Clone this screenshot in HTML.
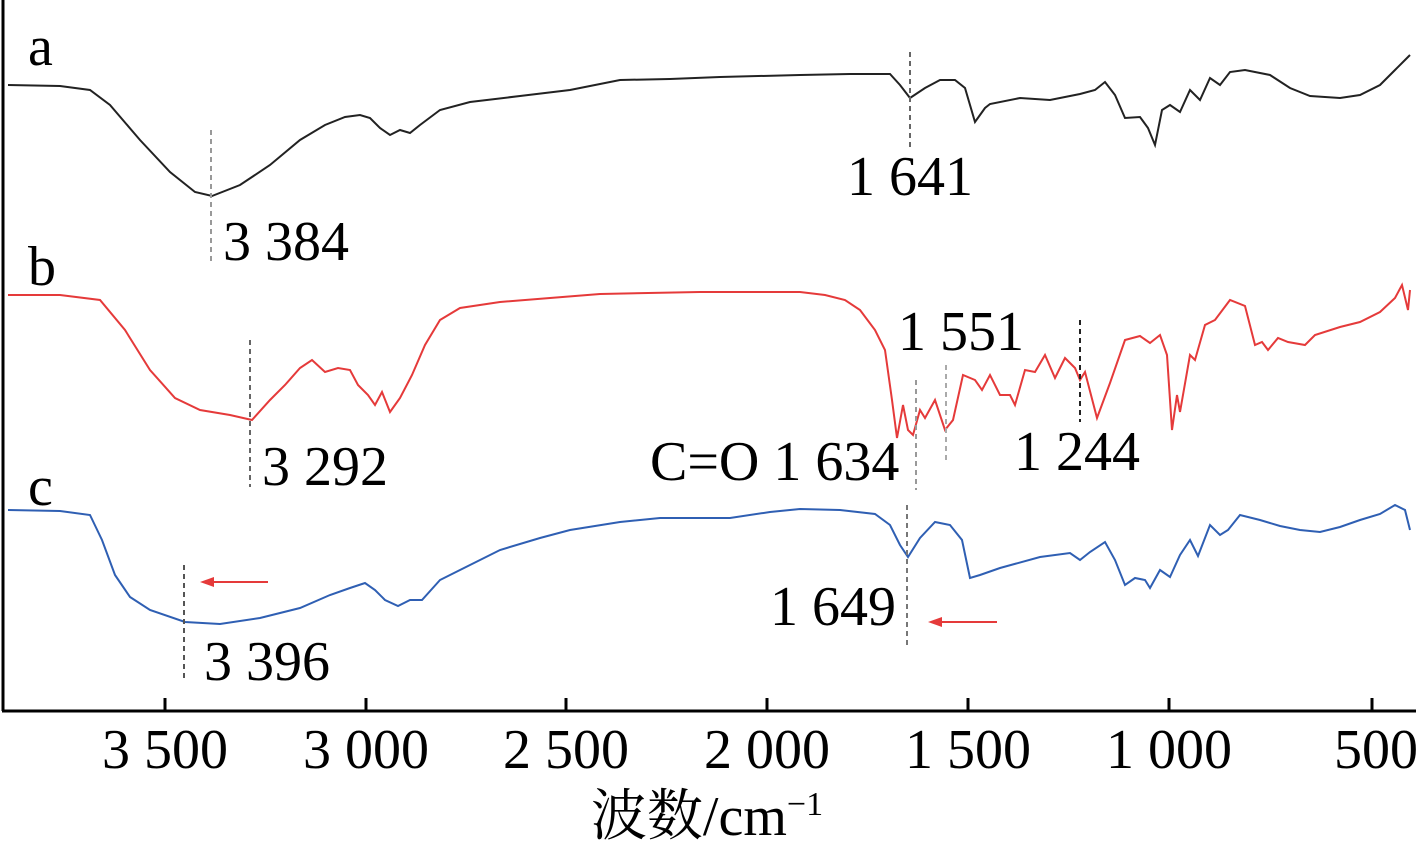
<!DOCTYPE html><html><head><meta charset="utf-8"><style>body{margin:0;background:#fff}svg{display:block}text{font-family:"Liberation Serif","Noto Serif CJK SC",serif;fill:#000}</style></head><body>
<svg width="1416" height="847" viewBox="0 0 1416 847">
<g fill="none" stroke-width="2">
<polyline stroke="#222" points="8,85 60,86 90,90 110,105 140,140 170,172 195,192 212,196 240,185 270,165 300,140 325,125 345,117 360,115 370,118 380,128 390,135 400,130 410,133 420,125 440,110 470,102 520,96 570,90 620,80 670,79 720,77 800,75 850,74 890,74 900,85 910,98 925,88 940,80 955,80 965,88 975,122 985,108 990,104 1020,98 1050,100 1080,94 1095,90 1105,82 1115,95 1125,118 1140,117 1148,128 1155,145 1162,110 1170,105 1180,112 1190,90 1200,100 1210,78 1220,85 1230,72 1245,70 1270,75 1290,88 1310,96 1340,98 1360,95 1380,85 1395,70 1405,60 1410,55"/>
<polyline stroke="#e53a3a" points="8,295 60,295 100,300 125,330 150,370 175,398 200,410 230,415 252,420 270,400 285,385 300,368 312,360 325,372 338,368 350,370 358,385 368,395 375,405 382,392 390,412 400,398 412,375 425,345 440,320 460,308 500,302 550,298 600,294 700,292 800,292 825,295 845,300 860,310 875,330 885,350 892,400 897,438 903,405 908,430 913,435 920,410 925,418 935,400 945,430 953,420 963,375 975,380 982,390 990,375 1000,395 1010,395 1015,405 1025,370 1035,372 1045,355 1055,378 1065,358 1075,368 1080,380 1085,372 1097,418 1110,383 1125,340 1140,336 1150,343 1160,335 1167,355 1172,430 1177,395 1180,412 1190,355 1195,360 1205,325 1215,320 1230,300 1245,306 1255,345 1262,342 1268,350 1278,338 1288,342 1305,345 1315,335 1340,327 1360,322 1380,312 1395,298 1402,285 1408,310 1410,290"/>
<polyline stroke="#2f5fb3" points="8,510 60,511 90,515 102,540 115,575 130,597 150,610 185,622 220,624 260,618 300,608 330,595 350,588 365,583 375,590 385,600 398,606 410,600 422,600 440,580 460,570 500,550 540,538 570,530 620,522 660,518 730,518 770,512 800,509 840,510 875,514 890,525 900,545 908,557 920,538 935,522 950,525 962,540 970,578 980,575 1000,568 1040,557 1070,553 1080,560 1090,552 1105,542 1115,560 1125,585 1135,578 1145,580 1150,588 1160,570 1170,577 1180,555 1190,540 1198,556 1210,525 1220,535 1228,530 1240,515 1260,520 1280,526 1300,530 1320,532 1340,527 1360,520 1380,514 1395,505 1405,510 1410,530"/>
</g>
<g stroke-width="2" stroke-dasharray="5,4" fill="none">
<line x1="211" y1="130" x2="211" y2="262" stroke="#999"/>
<line x1="910" y1="52" x2="910" y2="150" stroke="#666"/>
<line x1="250" y1="340" x2="250" y2="487" stroke="#666"/>
<line x1="916" y1="380" x2="916" y2="490" stroke="#999"/>
<line x1="946" y1="365" x2="946" y2="462" stroke="#aaa"/>
<line x1="1080" y1="320" x2="1080" y2="422" stroke="#222"/>
<line x1="184" y1="565" x2="184" y2="682" stroke="#555"/>
<line x1="907" y1="505" x2="907" y2="645" stroke="#777"/>
</g>
<g stroke="#e53a3a" stroke-width="2" fill="#e53a3a">
<line x1="268" y1="582" x2="210" y2="582"/><polygon points="200,582 214,577 214,587" stroke="none"/>
<line x1="997" y1="622" x2="938" y2="622"/><polygon points="928,622 942,617 942,627" stroke="none"/>
</g>
<g stroke="#000" stroke-width="3">
<line x1="3" y1="0" x2="3" y2="711"/><line x1="2" y1="711" x2="1416" y2="711"/>
<line x1="165" y1="711" x2="165" y2="698"/><line x1="366" y1="711" x2="366" y2="698"/><line x1="566" y1="711" x2="566" y2="698"/><line x1="767" y1="711" x2="767" y2="698"/><line x1="968" y1="711" x2="968" y2="698"/><line x1="1169" y1="711" x2="1169" y2="698"/><line x1="1372" y1="711" x2="1372" y2="698"/>
</g>
<g font-size="56">
<text x="28" y="65">a</text><text x="28" y="285">b</text><text x="28" y="505">c</text>
<text x="223" y="260">3 384</text>
<text x="847" y="195">1 641</text>
<text x="262" y="485">3 292</text>
<text x="650" y="480">C=O 1 634</text>
<text x="898" y="350">1 551</text>
<text x="1014" y="470">1 244</text>
<text x="204" y="680">3 396</text>
<text x="770" y="625">1 649</text>
</g>
<g font-size="56" text-anchor="middle">
<text x="165" y="768">3 500</text><text x="366" y="768">3 000</text><text x="566" y="768">2 500</text><text x="767" y="768">2 000</text><text x="968" y="768">1 500</text><text x="1169" y="768">1 000</text><text x="1376" y="768">500</text>
<text x="707" y="835">波数/cm<tspan font-size="34" dy="-20">−1</tspan></text>
</g>
</svg></body></html>
